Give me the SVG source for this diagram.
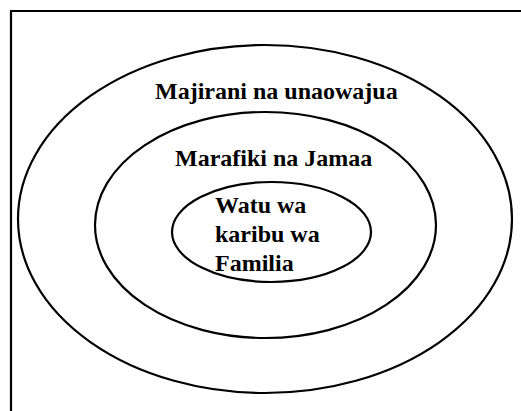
<svg xmlns="http://www.w3.org/2000/svg" width="521" height="411" viewBox="0 0 521 411">
<style>
.ring{fill:none;stroke:#000;stroke-width:2.2}
.lbl{font-family:"Liberation Serif","Times New Roman",serif;font-weight:bold;font-size:24px;fill:#000}
.frame{fill:none;stroke:#000;stroke-width:2.2}
</style>
<rect width="521" height="411" fill="#fff"/>
<path class="frame" d="M11,411 V11 H521"/>
<g id="outer">
<ellipse class="ring" cx="265" cy="219" rx="247" ry="174"/>
<text class="lbl" x="155" y="99">Majirani na unaowajua</text>
</g>
<g id="middle">
<ellipse class="ring" cx="265.5" cy="225" rx="170.5" ry="113"/>
<text class="lbl" x="175" y="166">Marafiki na Jamaa</text>
</g>
<g id="inner">
<ellipse class="ring" cx="271.5" cy="232" rx="99.5" ry="50"/>
<text class="lbl" x="215" y="213">Watu wa</text>
<text class="lbl" x="215" y="242">karibu wa</text>
<text class="lbl" x="215" y="271">Familia</text>
</g>
<g id="connectors"/>
</svg>
